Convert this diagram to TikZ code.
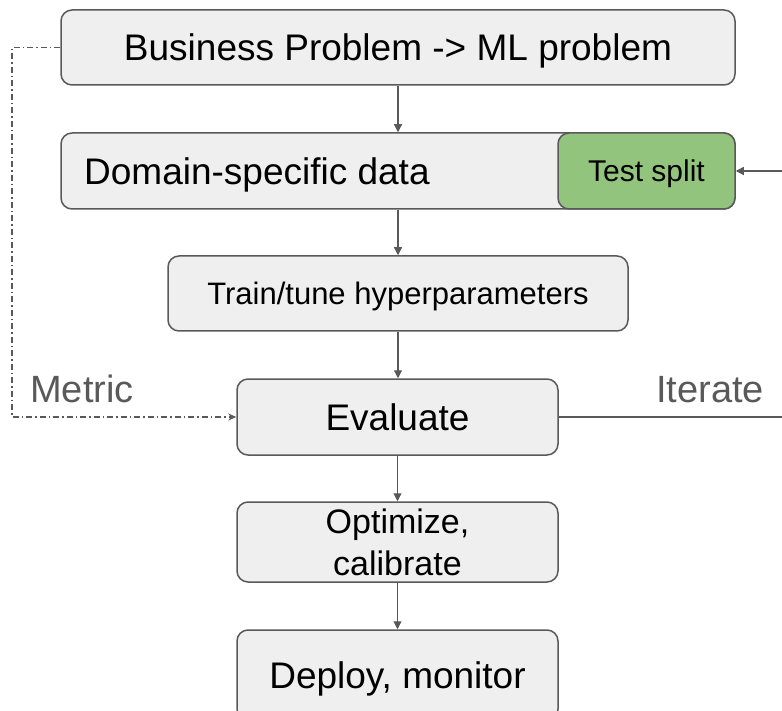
\documentclass[tikz,border=0pt]{standalone}
\usepackage{fontspec}
\setmainfont{Liberation Sans}
\usetikzlibrary{arrows.meta}
\definecolor{boxfill}{HTML}{EFEFEF}
\definecolor{boxline}{HTML}{595959}
\definecolor{testgreen}{HTML}{93C47D}
\definecolor{labelgray}{HTML}{595959}
\tikzset{
  stagebox/.style={draw=boxline, fill=boxfill, line width=1.5pt, rounded corners=11pt, inner sep=0pt, align=center},
  % centre a single line on its capitals: text height = cap height of the given size
  capcentre/.style={text height=0.716*#1, text depth=0pt},
  flow/.style={draw=boxline, line width=1.2pt, -{Triangle[length=8pt,width=8pt]}},
  feedback/.style={draw=boxline, line width=1.2pt, dash pattern=on 6pt off 3pt on 1.5pt off 3pt, -{Stealth[length=8pt,width=7pt]}},
  bigtext/.style={font=\fontsize{37}{42}\selectfont, capcentre=37pt},
  midtext/.style={font=\fontsize{30}{34}\selectfont, capcentre=30pt},
  sidelabel/.style={font=\fontsize{38}{42}\selectfont, capcentre=38pt, text=labelgray, inner sep=0pt},
}
\begin{document}
\begin{tikzpicture}[x=1pt,y=-1pt]
\useasboundingbox (0,0) rectangle (782,711);
\clip (0,0) rectangle (782,711);

% pipeline stages
\node[stagebox, bigtext, minimum width=674pt, minimum height=75pt] (biz) at (398,47.5) {Business Problem -> ML problem};
\node[stagebox, minimum width=674pt, minimum height=76pt] (data) at (398,171) {};
\node[bigtext, anchor=west, inner sep=0pt] (datatext) at (84,171) {Domain-specific data};
\node[stagebox, fill=testgreen, midtext, minimum width=177pt, minimum height=76pt] (test) at (646.5,171) {Test split};
\node[stagebox, font=\fontsize{31}{35}\selectfont, capcentre=31pt, minimum width=460pt, minimum height=75pt] (train) at (398,293.5) {Train/tune hyperparameters};
\node[stagebox, bigtext, minimum width=321pt, minimum height=76pt] (eval) at (397.5,417) {Evaluate};
\node[stagebox, font=\fontsize{34}{42}\selectfont, minimum width=321pt, minimum height=80pt] (opt) at (397.5,542) {Optimize,\\calibrate};
\node[stagebox, bigtext, minimum width=321pt, minimum height=90pt] (deploy) at (397.5,675) {Deploy, monitor};

% side labels
\node[sidelabel] (metric) at (82,389) {Metric};
\node[sidelabel] (iterate) at (710,389) {Iterate};

% main flow
\draw[flow] (biz.south -| data.north) -- (data.north);
\draw[flow] (data.south) -- (train.north);
\draw[flow] (train.south) -- (eval.north -| train.south);
\draw[flow] (eval.south) -- (opt.north);
\draw[flow] (opt.south) -- (deploy.north);

% metric feedback
\coordinate (mtop) at (12,47.5);
\coordinate (mbot) at (12,417);
\draw[feedback] (biz.west) -- (mtop) -- (mbot) -- (eval.west);

% iterate loop
\coordinate (ibot) at (795,417);
\coordinate (itop) at (795,171);
\draw[flow] (eval.east) -- (ibot) -- (itop) -- (test.east);
\end{tikzpicture}
\end{document}
